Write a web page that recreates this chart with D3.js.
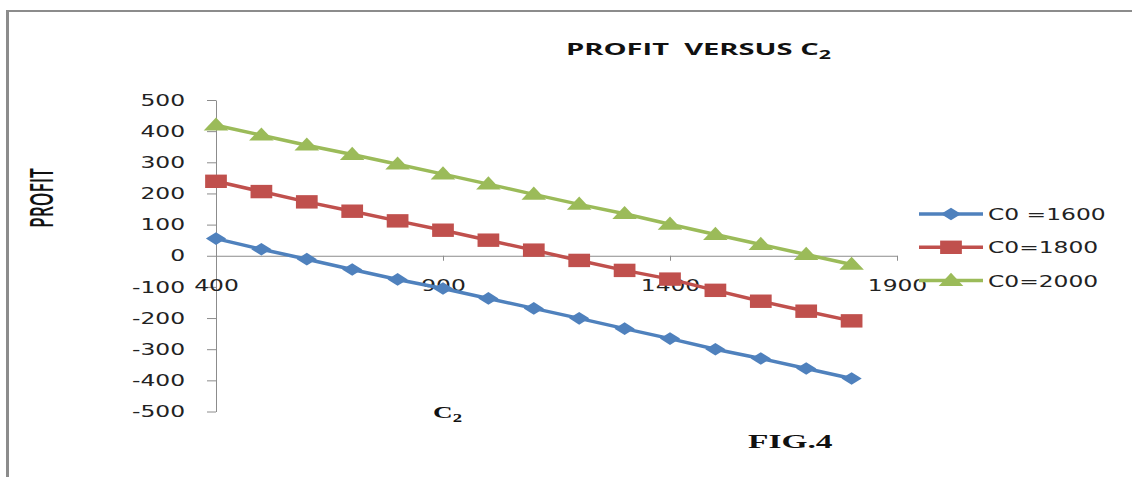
<!DOCTYPE html>
<html>
<head>
<meta charset="utf-8">
<script src="https://cdn.jsdelivr.net/npm/d3@7"></script>
<style>
  body { margin: 0; background: #fff; }
  svg { display: block; }
</style>
</head>
<body>
<svg id="chart" width="1132" height="477"></svg>
<script>
// C2 values on the horizontal axis
const c2Values = [400, 500, 600, 700, 800, 900, 1000, 1100, 1200, 1300, 1400, 1500, 1600, 1700, 1800];
// Profit for each C0 setting
const profitC0_1600 = [55, 21, -11, -44, -76, -105, -137, -169, -201, -234, -266, -300, -330, -362, -394];
const profitC0_1800 = [239, 206, 173, 143, 112, 82, 50, 18, -15, -47, -75, -111, -146, -178, -209];
const profitC0_2000 = [419, 387, 355, 325, 294, 262, 230, 197, 165, 135, 101, 68, 36, 4, -28];
const seriesNames = ["C0 =1600", "C0=1800", "C0=2000"];
const yTickValues = [-500, -400, -300, -200, -100, 0, 100, 200, 300, 400, 500];
const xTickValues = [400, 900, 1400, 1900];

const svg = d3.select("#chart");
const GREY = "#8c8c8c";
const STRETCH = 1.46; // wide letterforms used throughout the figure

const series = [
  { name: seriesNames[0], values: profitC0_1600, color: "#4F81BD", shape: "diamond" },
  { name: seriesNames[1], values: profitC0_1800, color: "#C0504D", shape: "square" },
  { name: seriesNames[2], values: profitC0_2000, color: "#9BBB59", shape: "triangle" }
];

const x = d3.scaleLinear().domain([400, 1900]).range([216, 897]);
const y = d3.scaleLinear().domain([-500, 500]).range([411.5, 100]);

// frame lines along top and left
svg.append("line").attr("x1", 6).attr("x2", 1132).attr("y1", 11).attr("y2", 11)
  .attr("stroke", GREY).attr("stroke-width", 2);
svg.append("line").attr("x1", 7.5).attr("x2", 7.5).attr("y1", 10).attr("y2", 477)
  .attr("stroke", GREY).attr("stroke-width", 3);

function widen(sel) {
  sel.each(function () {
    const L = this.getComputedTextLength();
    d3.select(this).attr("textLength", L * STRETCH).attr("lengthAdjust", "spacingAndGlyphs");
  });
}

// fit a text element horizontally between left and right, on a given baseline
function fitX(node, left, right, baseline) {
  const bb = node.getBBox();
  const s = (right - left) / bb.width;
  node.setAttribute("transform", `translate(${left - bb.x * s},${baseline}) scale(${s},1)`);
}

// y axis
const yAxis = svg.append("g").attr("transform", `translate(${x(400)},0)`)
  .call(d3.axisLeft(y).tickValues(yTickValues).tickSize(9).tickSizeOuter(0).tickPadding(22)
    .tickFormat(d3.format("d")));
yAxis.select(".domain").attr("stroke", GREY);
yAxis.selectAll(".tick line").attr("stroke", GREY);
yAxis.selectAll("text").attr("font-family", "DejaVu Sans").attr("font-size", 16).attr("fill", "#222")
  .text(d => String(d).replace("−", "-"));
widen(yAxis.selectAll("text"));

// x axis crossing at zero profit
const xAxis = svg.append("g").attr("transform", `translate(0,${y(0)})`)
  .call(d3.axisBottom(x).tickValues(xTickValues).tickSize(5).tickSizeOuter(0).tickFormat(d3.format("d")));
xAxis.select(".domain").attr("stroke", GREY);
xAxis.selectAll(".tick line").attr("stroke", GREY);
xAxis.selectAll("text").attr("font-family", "DejaVu Sans").attr("font-size", 16).attr("fill", "#222")
  .attr("y", 35).attr("dy", null);
widen(xAxis.selectAll("text"));

// marker shapes, stretched horizontally like the lettering
function marker(g, shape, cx, cy, color) {
  let path, tf;
  if (shape === "diamond") {
    path = d3.symbol(d3.symbolSquare, 80)();
    tf = `translate(${cx},${cy}) scale(1.6,1) rotate(45)`;
  } else if (shape === "square") {
    path = d3.symbol(d3.symbolSquare, 180)();
    tf = `translate(${cx},${cy}) scale(1.62,1)`;
  } else {
    path = d3.symbol(d3.symbolTriangle, 100)();
    tf = `translate(${cx},${cy + 1}) scale(1.62,1)`;
  }
  g.append("path").attr("d", path).attr("transform", tf).attr("fill", color);
}

const line = d3.line().x(d => x(d[0])).y(d => y(d[1]));
const plot = svg.append("g");
series.forEach(s => {
  const pts = c2Values.map((c, i) => [c, s.values[i]]);
  const g = plot.append("g");
  g.append("path").attr("d", line(pts)).attr("fill", "none")
    .attr("stroke", s.color).attr("stroke-width", 3.5).attr("stroke-linejoin", "round");
  pts.forEach(p => marker(g, s.shape, x(p[0]), y(p[1]), s.color));
});

// legend
const legend = svg.append("g");
series.forEach((s, i) => {
  const ry = 214 + i * 33.3;
  legend.append("line").attr("x1", 919).attr("x2", 983).attr("y1", ry).attr("y2", ry)
    .attr("stroke", s.color).attr("stroke-width", 3.5);
  marker(legend, s.shape, 951, ry, s.color);
  legend.append("text").attr("x", 988).attr("y", ry + 6).style("white-space", "pre")
    .attr("font-family", "DejaVu Sans").attr("font-size", 16).attr("fill", "#222").text(s.name);
});
widen(legend.selectAll("text"));

// chart title
const title = svg.append("text").attr("font-family", "Open Sans").attr("font-weight", "bold")
  .attr("font-size", 16.4).attr("fill", "#111").style("white-space", "pre");
title.append("tspan").text("PROFIT  VERSUS C");
title.append("tspan").attr("font-size", 12).attr("dy", 4).text("2");
fitX(title.node(), 566, 831, 55);

// x axis title
const xTitle = svg.append("text").attr("font-family", "Liberation Serif").attr("font-weight", "bold")
  .attr("font-size", 17.5).attr("fill", "#111");
xTitle.append("tspan").text("C");
xTitle.append("tspan").attr("font-size", 12).attr("dy", 4).text("2");
fitX(xTitle.node(), 433, 462, 418);

// figure caption
const fig = svg.append("text").attr("font-family", "Liberation Serif").attr("font-weight", "bold")
  .attr("font-size", 19.5).attr("fill", "#111").text("FIG.4");
fitX(fig.node(), 748, 833, 448);

// y axis title, rotated
const yTitle = svg.append("text").attr("font-family", "Open Sans").attr("font-weight", "600")
  .attr("font-size", 20).attr("fill", "#111").text("PROFIT");
{
  const node = yTitle.node();
  const bb = node.getBBox();
  const cap = 20 * 0.714;
  const sx = 23 / cap;
  const sy = 60 / bb.width;
  const tx = 53, ty = 228 + sy * bb.x;
  node.setAttribute("transform", `translate(${tx},${ty}) scale(${sx},${sy}) rotate(-90)`);
}
</script>
</body>
</html>
